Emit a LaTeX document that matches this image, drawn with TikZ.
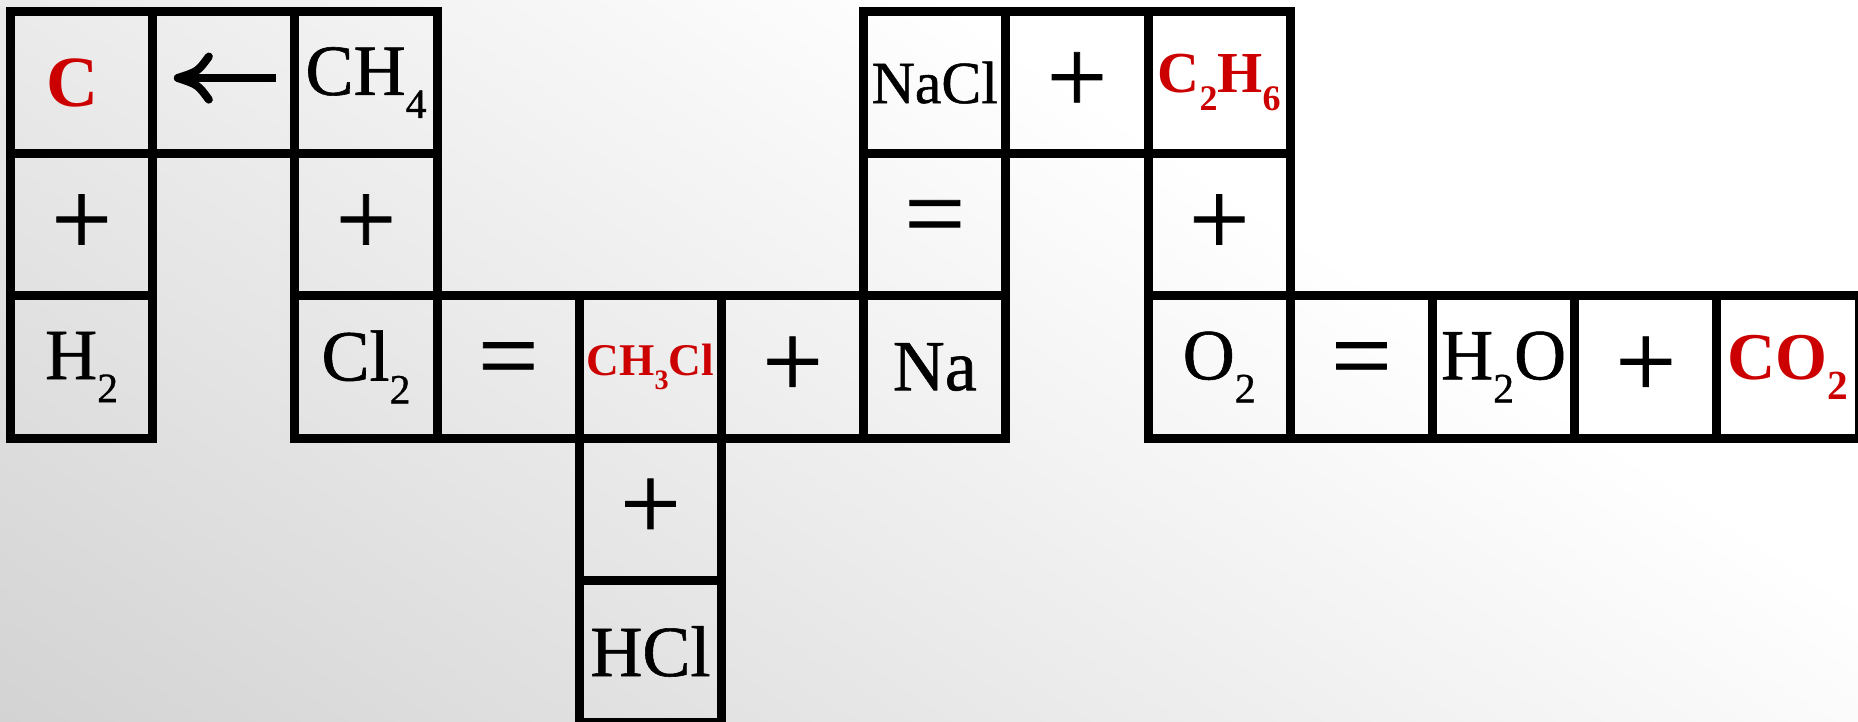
\documentclass[tikz,border=0pt]{standalone}
\usepackage{fontspec}
\setmainfont{Liberation Serif}
\newfontfamily\heavyserif{Liberation Serif}[FakeBold=0.8]
\usepackage{graphicx}
\definecolor{chemred}{HTML}{CC0000}
\definecolor{bgdark}{RGB}{211,211,211}
\newcommand{\sbs}[1]{\raisebox{-0.32em}{\scalebox{0.58}{#1}}}
\newcommand{\rsbs}[1]{\raisebox{-0.3em}{\scalebox{0.62}{#1}}}
\tikzset{
  cellbox/.style={draw=black, line width=2.56pt, rectangle, minimum width=1.422cm,
    minimum height=1.422cm, inner sep=0pt, outer sep=0pt},
  big/.style={font=\heavyserif\fontsize{20.5}{24}\selectfont},
  mid/.style={font=\heavyserif\fontsize{17}{20}\selectfont},
  op/.style={font=\heavyserif\fontsize{30.5}{34}\selectfont},
  redb/.style={text=chemred, font=\fontsize{#1}{#1}\selectfont\bfseries},
  arrowline/.style={line width=2.3pt, draw=black}
}
\begin{document}
\begin{tikzpicture}[x=0.01cm, y=-0.01cm]
\useasboundingbox (0,0) rectangle (1858,722);
% background
\begin{scope}
  \clip (0,0) rectangle (1858,722);
  \fill[white] (0,0) rectangle (1858,722);
  \begin{scope}[transform canvas={rotate=56.7}]
    \shade[left color=bgdark, right color=white] (-6.03cm,-19.47cm) rectangle (5.20cm,0cm);
  \end{scope}
\end{scope}
% cells
\node[cellbox, redb=20.5] (c00) at (81.6,82.6) {C\kern0.25em\relax};
\node[cellbox] (c01) at (223.8,82.6) {};
\node[cellbox, big] (c02) at (366,82.6) {CH\sbs{4}};
\node[cellbox, op] (c10) at (81.6,224.8) {+};
\node[cellbox, op] (c12) at (366,224.8) {+};
\node[cellbox, big] (c20) at (81.6,367) {H\sbs{2}};
\node[cellbox, big] (c22) at (366,367) {Cl\sbs{2}};
\node[cellbox, op] (c23) at (508.2,367) {=};
\node[cellbox, redb=12.9] (c24) at (650.4,367) {CH\rsbs{3}Cl};
\node[cellbox, op] (c25) at (792.6,367) {+};
\node[cellbox, big] (c26) at (934.8,367) {Na};
\node[cellbox, big] (c28) at (1219.2,367) {O\sbs{2}};
\node[cellbox, op] (c29) at (1361.4,367) {=};
\node[cellbox, big] (c2A) at (1503.6,367) {H\sbs{2}O};
\node[cellbox, op] (c2B) at (1645.8,367) {+};
\node[cellbox, redb=19] (c2C) at (1788,367) {CO\rsbs{2}};
\node[cellbox, op] (c34) at (650.4,509.2) {+};
\node[cellbox, big] (c44) at (650.4,651.4) {HCl};
\node[cellbox, mid] (c06) at (934.8,82.6) {NaCl};
\node[cellbox, op] (c07) at (1077,82.6) {+};
\node[cellbox, redb=16.5] (c08) at (1219.2,82.6) {C\rsbs{2}H\rsbs{6}};
\node[cellbox, op] (c16) at (934.8,224.8) {=};
\node[cellbox, op] (c18) at (1219.2,224.8) {+};
% arrow glyph in c01
\draw[arrowline, line cap=butt, shift={(c01.center)}] (52,-4.6) -- (-42,-4.6);
\draw[arrowline, line cap=round, line join=round, shift={(c01.center)}]
  (-15,-26) .. controls (-26,-11) .. (-46,-4.6) .. controls (-26,2) .. (-15,17);
\end{tikzpicture}
\end{document}
